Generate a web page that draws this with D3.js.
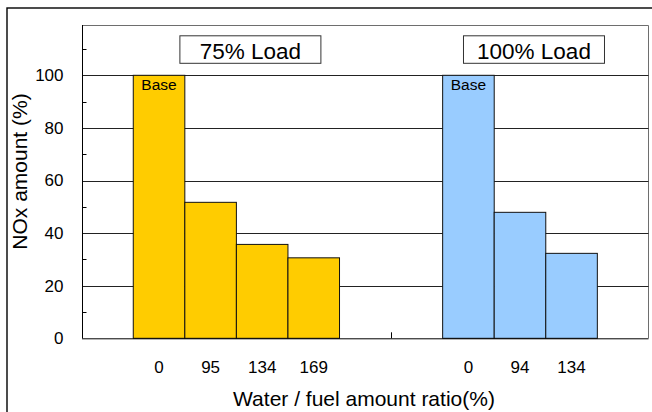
<!DOCTYPE html>
<html>
<head>
<meta charset="utf-8">
<script src="https://cdn.jsdelivr.net/npm/d3@7"></script>
<style>
  html, body { margin: 0; padding: 0; background: #fff; }
  svg { display: block; font-family: "Liberation Sans", Arial, sans-serif; }
</style>
</head>
<body>
<svg id="chart" width="652" height="412"></svg>
<script>
// ---- data ----
const groupLabels = ["75% Load", "100% Load"];
const ratios75 = ["0", "95", "134", "169"];
const nox75 = [100, 51.7, 35.7, 30.6];
const ratios100 = ["0", "94", "134"];
const nox100 = [100, 47.9, 32.3];
const groupColors = ["#FFCC00", "#99CCFF"];
const yTicks = [0, 20, 40, 60, 80, 100];
const yMinorTicks = [10, 30, 50, 70, 90, 110];
const baseLabel = "Base";
const xTitle = "Water / fuel amount ratio(%)";
const yTitle = "NOx amount (%)";

// ---- build slots: lead pad, group1, gap(2), group2, trail pad ----
const groups = [
  { label: groupLabels[0], ratios: ratios75, values: nox75, color: groupColors[0] },
  { label: groupLabels[1], ratios: ratios100, values: nox100, color: groupColors[1] }
];
const slots = [];
slots.push({ key: "pad0" });
groups.forEach((g, gi) => {
  g.ratios.forEach((r, i) => slots.push({ key: "g" + gi + "-" + i, group: gi, ratio: r, value: g.values[i], color: g.color }));
  if (gi === 0) { slots.push({ key: "gapA" }); slots.push({ key: "gapB" }); }
});
slots.push({ key: "pad1" });

const svg = d3.select("#chart");
const plot = { left: 82, right: 648.5, top: 25, bottom: 338.3 };

const x = d3.scaleBand().domain(slots.map(s => s.key)).range([81.7, 648.9]).padding(0);
const y = d3.scaleLinear().domain([0, 120]).range([plot.bottom, 22.7]);

// outer frame
svg.append("rect").attr("x", 7).attr("y", 8).attr("width", 660).attr("height", 420)
  .attr("fill", "none").attr("stroke", "#000").attr("stroke-width", 1.4);

// plot area border (top, right)
svg.append("path")
  .attr("d", `M${plot.left},${plot.top + 0.5}H${plot.right}V${plot.bottom}`)
  .attr("fill", "none").attr("stroke", "#6e6e6e").attr("stroke-width", 1);

// gridlines
svg.append("g").selectAll("line").data(yTicks.filter(d => d > 0)).join("line")
  .attr("x1", plot.left).attr("x2", plot.right)
  .attr("y1", d => Math.round(y(d)) + 0.5).attr("y2", d => Math.round(y(d)) + 0.5)
  .attr("stroke", "#222").attr("stroke-width", 1);

// bars
const barSlots = slots.filter(s => s.value !== undefined);
svg.append("g").selectAll("rect").data(barSlots).join("rect")
  .attr("x", d => x(d.key))
  .attr("y", d => y(d.value))
  .attr("width", x.bandwidth())
  .attr("height", d => y(0) - y(d.value))
  .attr("fill", d => d.color)
  .attr("stroke", "#111").attr("stroke-width", 1);

// Base labels
svg.append("g").selectAll("text").data(barSlots.filter(d => d.ratio === "0")).join("text")
  .attr("x", d => x(d.key) + x.bandwidth() / 2)
  .attr("y", d => y(d.value) + 15)
  .attr("text-anchor", "middle")
  .attr("font-size", "15.5px").attr("fill", "#000")
  .text(baseLabel);

// y axis
const yAxis = d3.axisLeft(y).tickValues(yTicks).tickSize(0).tickPadding(19).tickFormat(d3.format("d"));
const yg = svg.append("g").attr("transform", `translate(${plot.left + 0.5},0)`).call(yAxis);
yg.select(".domain").attr("d", `M0,${plot.top}V${plot.bottom}`).attr("stroke", "#000");
yg.selectAll("text").attr("font-size", "17px").attr("fill", "#000").attr("font-family", "Liberation Sans, Arial, sans-serif");
// minor ticks (inside)
svg.append("g").selectAll("line").data(yMinorTicks).join("line")
  .attr("x1", plot.left).attr("x2", plot.left + 4.5)
  .attr("y1", d => Math.round(y(d)) + 0.5).attr("y2", d => Math.round(y(d)) + 0.5)
  .attr("stroke", "#000");

// x axis
const xAxis = d3.axisBottom(x).tickSize(0).tickPadding(0)
  .tickFormat(k => { const s = slots.find(t => t.key === k); return s.ratio || ""; });
const xg = svg.append("g").attr("transform", `translate(0,${plot.bottom})`).call(xAxis);
xg.select(".domain").attr("d", `M${plot.left},0.5H${plot.right}`).attr("stroke", "#000");
xg.selectAll("text").attr("font-size", "17px").attr("fill", "#000").attr("dy", null)
  .attr("y", 35).attr("font-family", "Liberation Sans, Arial, sans-serif");
// separator tick between groups
const sepX = x("gapB");
svg.append("line").attr("x1", Math.round(sepX) + 0.5).attr("x2", Math.round(sepX) + 0.5)
  .attr("y1", plot.bottom).attr("y2", plot.bottom - 6).attr("stroke", "#000");

// group label boxes
groups.forEach((g, gi) => {
  const keys = g.ratios.map((r, i) => "g" + gi + "-" + i);
  const cx = (x(keys[0]) + x(keys[keys.length - 1]) + x.bandwidth()) / 2 + 14;
  const bw = 141, bh = 27.5;
  svg.append("rect").attr("x", cx - bw / 2).attr("y", 35.8).attr("width", bw).attr("height", bh)
    .attr("fill", "#fff").attr("stroke", "#333").attr("stroke-width", 1);
  svg.append("text").attr("x", cx).attr("y", 59.2).attr("text-anchor", "middle")
    .attr("font-size", "22.5px").attr("fill", "#000").text(g.label);
});

// axis titles
svg.append("text").attr("x", 364).attr("y", 405.5).attr("text-anchor", "middle")
  .attr("font-size", "21px").attr("fill", "#000").text(xTitle);
svg.append("text").attr("transform", "translate(26.5,171.5) rotate(-90)").attr("text-anchor", "middle")
  .attr("font-size", "21px").attr("fill", "#000").text(yTitle);
</script>
</body>
</html>
